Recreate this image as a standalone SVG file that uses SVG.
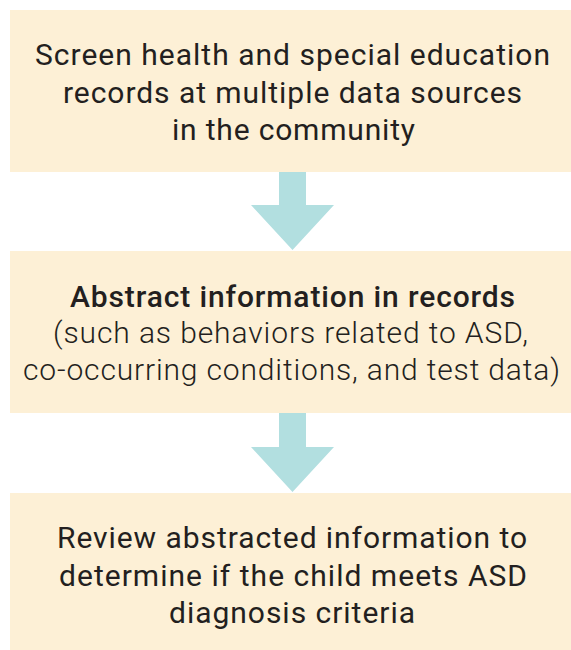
<svg xmlns="http://www.w3.org/2000/svg" width="571" height="650" viewBox="0 0 571 650">
<style>
.box{fill:#FDF0D6}
.arr{fill:#B2DFE0}
text{font-family:Roboto,"Liberation Sans",sans-serif;font-size:30px;fill:#231F20;text-anchor:middle;font-weight:400}
.m{font-weight:500}
.l{font-weight:300}
</style>
<rect width="571" height="650" fill="#FFFFFF"/>
<g id="connectors">
<path class="arr" d="M279 172H306V205H334L292.5 250L251 205H279Z"/>
<path class="arr" d="M279 413H306V447H334L292.5 492L251 447H279Z"/>
</g>
<g id="node1">
<rect class="box" x="10" y="10" width="561" height="162"/>
<text x="292.5" y="65" textLength="515" lengthAdjust="spacing">Screen health and special education</text>
<text x="292.5" y="103" textLength="459" lengthAdjust="spacing">records at multiple data sources</text>
<text x="293.5" y="140" textLength="243" lengthAdjust="spacing">in the community</text>
</g>
<g id="node2">
<rect class="box" x="10" y="251" width="561" height="162"/>
<text class="m" x="292.5" y="307" textLength="445" lengthAdjust="spacing">Abstract information in records</text>
<text class="l" x="290.5" y="343" textLength="475" lengthAdjust="spacing">(such as behaviors related to ASD,</text>
<text class="l" x="291.5" y="380" textLength="537" lengthAdjust="spacing">co-occurring conditions, and test data)</text>
</g>
<g id="node3">
<rect class="box" x="10" y="493" width="561" height="157"/>
<text x="292" y="548" textLength="470" lengthAdjust="spacing">Review abstracted information to</text>
<text x="293" y="586" textLength="468" lengthAdjust="spacing">determine if the child meets ASD</text>
<text x="292" y="623" textLength="246" lengthAdjust="spacing">diagnosis criteria</text>
</g>
</svg>
